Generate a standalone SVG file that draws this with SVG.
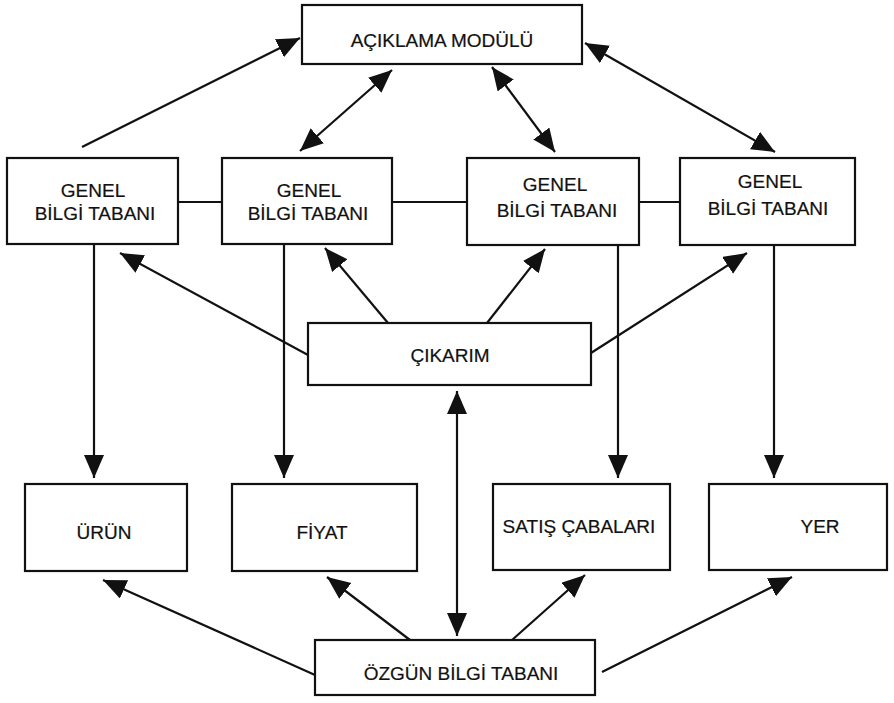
<svg xmlns="http://www.w3.org/2000/svg" width="894" height="703" viewBox="0 0 894 703">
<style>
.box{fill:#fff;stroke:#111;stroke-width:2.2}
.t{font-family:"Liberation Sans",Arial,sans-serif;font-size:19px;fill:#111;stroke:#111;stroke-width:0.2;text-anchor:middle}
.c{stroke:#111;stroke-width:2.2;fill:none}
.a{marker-end:url(#ah)}
.d{marker-start:url(#ah);marker-end:url(#ah)}
</style>
<defs>
<marker id="ah" markerUnits="userSpaceOnUse" markerWidth="26" markerHeight="22" refX="23" refY="10" orient="auto-start-reverse" viewBox="0 0 26 22">
<path d="M0,0 L23,10 L0,20 Z" fill="#111"/>
</marker>
</defs>
<rect width="894" height="703" fill="#fff"/>
<g id="connectors">
<line class="c" x1="178" y1="202" x2="222" y2="202"/>
<line class="c" x1="392" y1="202" x2="467" y2="202"/>
<line class="c" x1="639" y1="202" x2="680" y2="202"/>
<line class="c a" x1="82" y1="147" x2="300" y2="38"/>
<line class="c d" x1="392" y1="70" x2="300" y2="151"/>
<line class="c d" x1="492" y1="67" x2="555" y2="152"/>
<line class="c d" x1="585" y1="43" x2="775" y2="152"/>
<line class="c a" x1="308" y1="355" x2="120" y2="253"/>
<line class="c a" x1="388" y1="323" x2="325" y2="248"/>
<line class="c a" x1="487" y1="323" x2="545" y2="249"/>
<line class="c a" x1="591" y1="353" x2="747" y2="253"/>
<line class="c a" x1="94" y1="244" x2="94" y2="478"/>
<line class="c a" x1="284" y1="244" x2="284" y2="478"/>
<line class="c a" x1="618" y1="245" x2="618" y2="478"/>
<line class="c a" x1="774" y1="245" x2="774" y2="478"/>
<line class="c d" x1="457" y1="391" x2="457" y2="636"/>
<line class="c a" x1="315" y1="675" x2="103" y2="580"/>
<line class="c a" x1="410" y1="640" x2="327" y2="577"/>
<line class="c a" x1="512" y1="640" x2="585" y2="575"/>
<line class="c a" x1="602" y1="672" x2="792" y2="577"/>
</g>
<g id="aciklama"><rect class="box" x="302" y="5" width="280" height="59"/><text class="t" x="442" y="47">AÇIKLAMA MODÜLÜ</text></g>
<g id="gbt1"><rect class="box" x="7" y="158" width="171" height="86"/><text class="t" x="93" y="197">GENEL</text><text class="t" x="95" y="220">BİLGİ TABANI</text></g>
<g id="gbt2"><rect class="box" x="222" y="158" width="170" height="86"/><text class="t" x="309" y="197">GENEL</text><text class="t" x="308" y="220">BİLGİ TABANI</text></g>
<g id="gbt3"><rect class="box" x="467" y="158" width="172" height="87"/><text class="t" x="555" y="191">GENEL</text><text class="t" x="557" y="217">BİLGİ TABANI</text></g>
<g id="gbt4"><rect class="box" x="680" y="158" width="175" height="87"/><text class="t" x="770" y="188">GENEL</text><text class="t" x="768" y="215">BİLGİ TABANI</text></g>
<g id="cikarim"><rect class="box" x="308" y="323" width="283" height="62"/><text class="t" x="450" y="362">ÇIKARIM</text></g>
<g id="urun"><rect class="box" x="25" y="484" width="162" height="87"/><text class="t" x="104" y="539">ÜRÜN</text></g>
<g id="fiyat"><rect class="box" x="232" y="484" width="185" height="87"/><text class="t" x="322" y="539">FİYAT</text></g>
<g id="satis"><rect class="box" x="493" y="484" width="177" height="86"/><text class="t" x="579" y="533">SATIŞ ÇABALARI</text></g>
<g id="yer"><rect class="box" x="709" y="484" width="178" height="86"/><text class="t" x="820" y="533">YER</text></g>
<g id="ozgun"><rect class="box" x="315" y="640" width="280" height="55"/><text class="t" x="461" y="680">ÖZGÜN BİLGİ TABANI</text></g>
</svg>
